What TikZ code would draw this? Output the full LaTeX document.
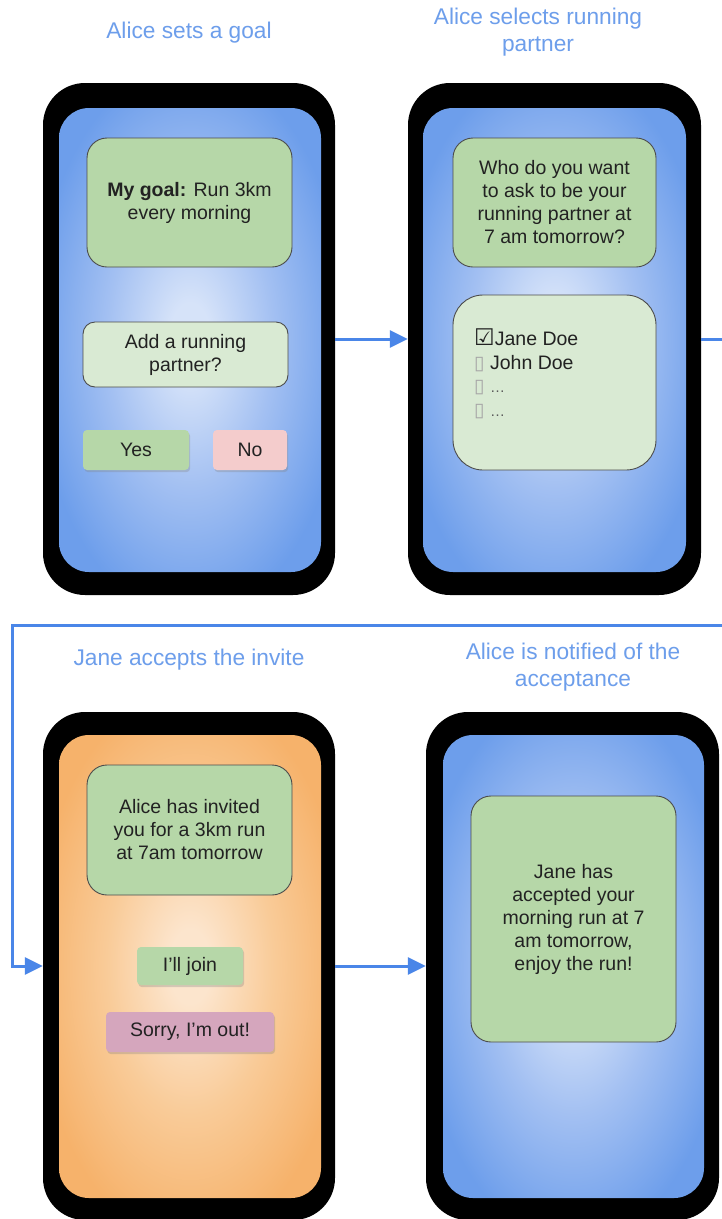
\documentclass[tikz,border=0pt]{standalone}
\usepackage{fontspec}
\setmainfont{Liberation Sans}
\newfontfamily\symfont{DejaVu Sans}
\usetikzlibrary{arrows.meta,shadows}

\definecolor{flow}{HTML}{4A86E8}
\definecolor{caption}{HTML}{6D9EEB}
\definecolor{screenblue}{HTML}{6D9EEB}
\definecolor{screenmid}{HTML}{A3C0F2}
\definecolor{screenlight}{HTML}{D6E3F9}
\definecolor{screenorange}{HTML}{F6B26B}
\definecolor{orangemid}{HTML}{F9CB98}
\definecolor{orangelight}{HTML}{FCE5CD}
\definecolor{cardgreen}{HTML}{B6D7A8}
\definecolor{palegreen}{HTML}{D9EAD3}
\definecolor{nored}{HTML}{F4CCCC}
\definecolor{outpink}{HTML}{D5A6BD}
\definecolor{ink}{HTML}{222222}

% soft glow in the middle of each phone screen
\pgfdeclareradialshading{blueglow}{\pgfpoint{0bp}{0bp}}{%
  color(0bp)=(screenlight); color(4bp)=(screenlight); color(16bp)=(screenmid);
  color(30bp)=(screenblue); color(50bp)=(screenblue)}
\pgfdeclareradialshading{orangeglow}{\pgfpoint{0bp}{0bp}}{%
  color(0bp)=(orangelight); color(4bp)=(orangelight); color(16bp)=(orangemid);
  color(30bp)=(screenorange); color(50bp)=(screenorange)}

\newcommand{\emptybox}{{\symfont\color{black!35}\fontsize{19}{19}\selectfont ▯}}
\newcommand{\tickbox}{{\symfont\fontsize{23}{23}\selectfont ☑}}

\tikzset{
  body/.style={font=\fontsize{19.5}{23}\selectfont, text=ink},
  title/.style={font=\fontsize{22.7}{27}\selectfont, text=caption, align=center},
  frame/.style={fill=black, rounded corners=42pt, inner sep=0pt},
  bluescreen/.style={shade, shading=blueglow, rounded corners=30pt, inner sep=0pt},
  orangescreen/.style={shade, shading=orangeglow, rounded corners=30pt, inner sep=0pt},
  card/.style={body, draw=black!70, line width=0.9pt, rounded corners=20pt, align=center, inner sep=0pt},
  button/.style={body, rounded corners=4pt, inner sep=0pt,
    drop shadow={shadow xshift=1.2pt, shadow yshift=-2.2pt, opacity=0.3}},
  listitem/.style={body, anchor=base west, inner sep=0pt},
  flowline/.style={draw=flow, line width=3pt},
  flowarrow/.style={flowline, -{Triangle[length=18pt,width=17pt]}},
}

\begin{document}
\begin{tikzpicture}[x=1pt, y=-1pt]
  \fill[white] (0,0) rectangle (722,1219);
  \useasboundingbox (0,0) rectangle (722,1219);

  % ---------- step 1: goal ----------
  \node[title] (t1) at (189,33) {Alice sets a goal};
  \node[frame, minimum width=292pt, minimum height=512pt] (p1) at (189,339) {};
  \node[bluescreen, minimum width=262pt, minimum height=464pt] (s1) at (190,340) {};
  \node[card, fill=cardgreen, minimum width=205pt, minimum height=129pt] (goal) at (189.5,202.5)
    {\textbf{My goal:} Run 3km\\every morning};
  \node[card, fill=palegreen, rounded corners=12pt, minimum width=205pt, minimum height=65pt] (ask) at (185.5,354.5)
    {Add a running\\partner?};
  \node[button, fill=cardgreen, minimum width=106pt, minimum height=40pt] (yes) at (136,450) {Yes};
  \node[button, fill=nored, minimum width=74pt, minimum height=40pt] (no) at (250,450) {No};

  % ---------- step 2: partner ----------
  \node[title] (t2) at (538,32.5) {Alice selects running\\partner};
  \node[frame, minimum width=293pt, minimum height=512pt] (p2) at (554.5,339) {};
  \node[bluescreen, minimum width=263pt, minimum height=464pt] (s2) at (554.5,340) {};
  \node[card, fill=cardgreen, minimum width=203pt, minimum height=129pt] (who) at (554.5,202.5)
    {Who do you want\\to ask to be your\\running partner at\\7 am tomorrow?};
  \node[card, fill=palegreen, rounded corners=30pt, minimum width=203pt, minimum height=175pt] (list) at (554.5,382.5) {};
  \node[listitem] (jane) at (474,345) {\tickbox Jane Doe};
  \node[listitem] (john) at (474,369) {\emptybox\ John Doe};
  \node[listitem] (more1) at (474,392) {\emptybox\ {\color{black!65}\fontsize{15}{15}\selectfont …}};
  \node[listitem] (more2) at (474,416) {\emptybox\ {\color{black!65}\fontsize{15}{15}\selectfont …}};

  % ---------- step 3: invite ----------
  \node[title] (t3) at (189,660) {Jane accepts the invite};
  \node[frame, minimum width=292pt, minimum height=508pt] (p3) at (189,966) {};
  \node[orangescreen, minimum width=262pt, minimum height=463pt] (s3) at (190,966.5) {};
  \node[card, fill=cardgreen, minimum width=205pt, minimum height=130pt] (invite) at (189.5,830)
    {Alice has invited\\you for a 3km run\\at 7am tomorrow};
  \node[button, fill=cardgreen, minimum width=106pt, minimum height=38pt] (join) at (190,966) {I’ll join};
  \node[button, fill=outpink, minimum width=168pt, minimum height=40pt] (out) at (190,1032) {Sorry, I’m out!};

  % ---------- step 4: notification ----------
  \node[title] (t4) at (573,667.5) {Alice is notified of the\\acceptance};
  \node[frame, minimum width=293pt, minimum height=508pt] (p4) at (572.5,966) {};
  \node[bluescreen, minimum width=261pt, minimum height=463pt] (s4) at (573.5,966.5) {};
  \node[card, fill=cardgreen, minimum width=205pt, minimum height=246pt] (note) at (573.5,919)
    {Jane has\\accepted your\\morning run at 7\\am tomorrow,\\enjoy the run!};

  % ---------- flow between screens ----------
  \coordinate (turnR) at (730,339);
  \coordinate (turnL) at (12,625);
  \draw[flowarrow] (p1.east) -- (p2.west);
  \draw[flowarrow] (p2.east) -- (turnR) |- (turnL) |- (p3.west);
  \draw[flowarrow] (p3.east) -- (p4.west);
\end{tikzpicture}
\end{document}
